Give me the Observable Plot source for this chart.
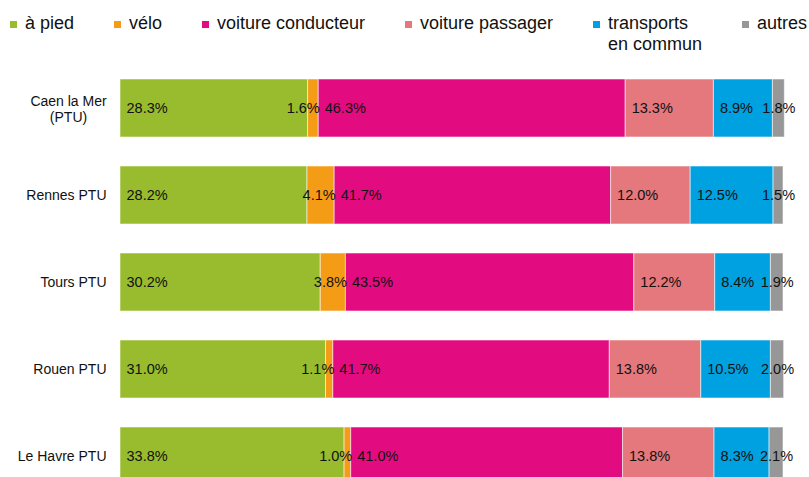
<!DOCTYPE html>
<html><head><meta charset="utf-8">
<script src="https://cdn.jsdelivr.net/npm/d3@7"></script>
<script src="https://cdn.jsdelivr.net/npm/@observablehq/plot@0.6"></script>
<style>
html,body{margin:0;padding:0;overflow:hidden;background:#fff;}
body{width:809px;height:477px;position:relative;font-family:"Liberation Sans",Arial,sans-serif;}
#legend{position:absolute;top:0;left:0;width:809px;box-sizing:border-box;padding:13px 2px 0 10px;display:flex;justify-content:space-between;font-size:18px;line-height:21px;color:#111;}
.item{display:flex;align-items:flex-start;white-space:pre;}
.sw{width:7px;height:7px;margin-top:8px;margin-right:8px;flex:none;}
#chart{position:absolute;top:0;left:0;}
</style></head><body>
<div id="chart"></div>
<div id="legend"></div>
<script>
const cities = ["Caen la Mer\n(PTU)", "Rennes PTU", "Tours PTU", "Rouen PTU", "Le Havre PTU"];
const modes = ["à pied", "vélo", "voiture conducteur", "voiture passager", "transports en commun", "autres"];
const legendLabels = ["à pied", "vélo", "voiture conducteur", "voiture passager", "transports\nen commun", "autres"];
const modeColors = ["#98bc2e", "#f59c16", "#e30b80", "#e4787c", "#00a1e0", "#979797"];

const aPied = [28.3, 28.2, 30.2, 31.0, 33.8];
const velo = [1.6, 4.1, 3.8, 1.1, 1.0];
const voitureConducteur = [46.3, 41.7, 43.5, 41.7, 41.0];
const voiturePassager = [13.3, 12.0, 12.2, 13.8, 13.8];
const transportsEnCommun = [8.9, 12.5, 8.4, 10.5, 8.3];
const autres = [1.8, 1.5, 1.9, 2.0, 2.1];

const series = [aPied, velo, voitureConducteur, voiturePassager, transportsEnCommun, autres];

const rows = [];
cities.forEach((city, i) => {
  let start = 0;
  modes.forEach((mode, j) => {
    const value = series[j][i];
    rows.push({city, mode, value, start, last: j === modes.length - 1});
    start += value;
  });
});

// legend
const legend = document.getElementById("legend");
modes.forEach((m, j) => {
  const it = document.createElement("div");
  it.className = "item";
  const sw = document.createElement("span");
  sw.className = "sw";
  sw.style.background = modeColors[j];
  const tx = document.createElement("span");
  tx.textContent = legendLabels[j];
  it.appendChild(sw); it.appendChild(tx);
  legend.appendChild(it);
});

const big = rows.filter(d => d.value >= 5);
const smallInner = rows.filter(d => d.value < 5 && !d.last);
const smallLast = rows.filter(d => d.value < 5 && d.last);
const fmt = d => d.value.toFixed(1) + "%";

const chart = Plot.plot({
  width: 809,
  height: 516,
  marginLeft: 120,
  marginRight: 26,
  marginTop: 48.5,
  marginBottom: 0,
  style: {fontFamily: "'Liberation Sans', Arial, sans-serif", fontSize: "14.5px", color: "#111", background: "transparent"},
  x: {domain: [0, 100], axis: null},
  y: {domain: cities, padding: 0.337, axis: null},
  color: {domain: modes, range: modeColors},
  marks: [
    Plot.barX(rows, {x1: "start", x2: d => d.start + d.value, y: "city", fill: "mode", stroke: "white", strokeWidth: 1, strokeOpacity: 0.55}),
    Plot.text(big, {x: "start", y: "city", text: fmt, textAnchor: "start", dx: 6, fill: "#111"}),
    Plot.text(smallInner, {x: d => d.start + d.value, y: "city", text: fmt, textAnchor: "end", dx: 1, fill: "#111"}),
    Plot.text(smallLast, {x: d => d.start + d.value / 2, y: "city", text: fmt, textAnchor: "middle", fill: "#111"}),
    Plot.text(cities.filter(c => !c.includes("\n")), {y: d => d, frameAnchor: "left", textAnchor: "end", dx: -14, fontSize: 14, fill: "#111"}),
    Plot.text(cities.filter(c => c.includes("\n")), {y: d => d, frameAnchor: "left", textAnchor: "middle", dx: -52, fontSize: 14, lineHeight: 1.15, fill: "#111"})
  ]
});
document.getElementById("chart").appendChild(chart);
</script>
</body></html>
